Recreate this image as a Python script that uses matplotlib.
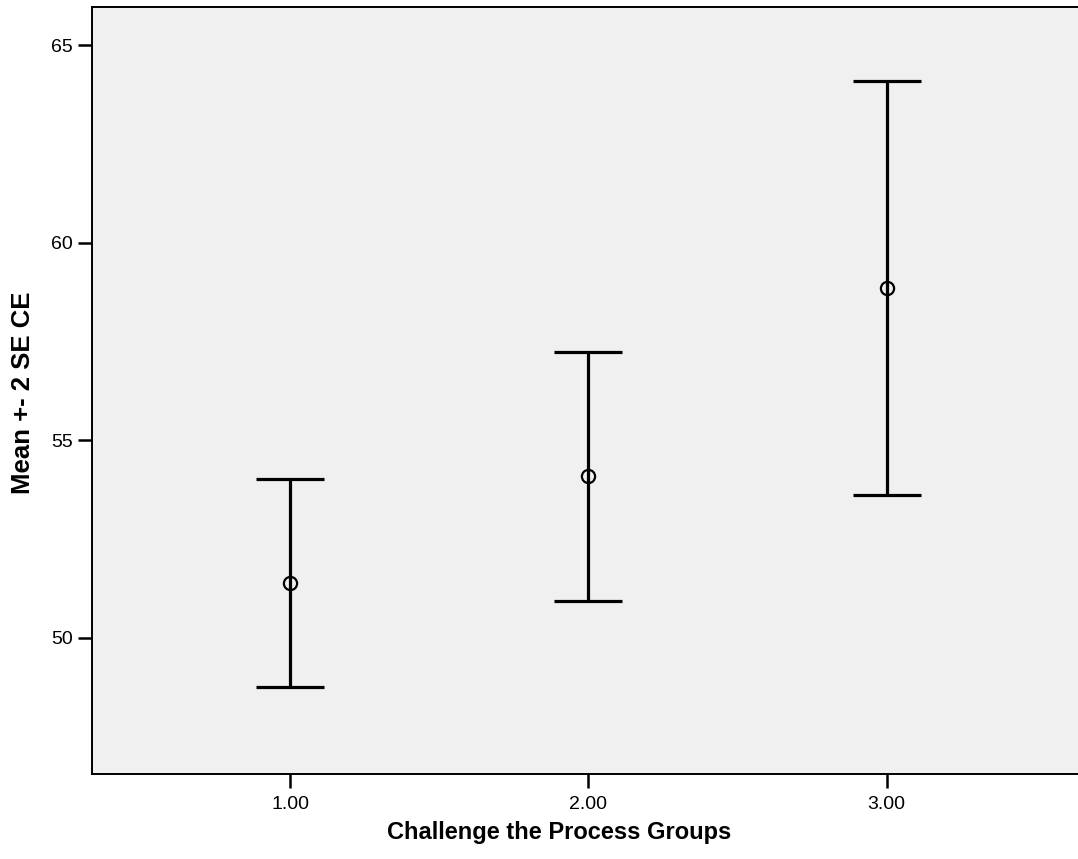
import matplotlib
matplotlib.use("Agg")
import matplotlib.pyplot as plt
import numpy as np

plt.rcParams['font.family'] = ['Liberation Sans', 'DejaVu Sans']

# Group means with their +/- 2 SE bounds
groups = [1.0, 2.0, 3.0]
group_labels = ["1.00", "2.00", "3.00"]
means = [51.38, 54.08, 58.86]
lower = [48.74, 50.92, 53.61]
upper = [54.01, 57.23, 64.09]
y_ticks = [50, 55, 60, 65]

fig = plt.figure(figsize=(10.78, 8.59), dpi=100)
ax = fig.add_axes([0.0851, 0.0986, 0.9149, 0.8936])
ax.set_facecolor("#f0f0f0")

m = np.array(means)
yerr = np.vstack([m - np.array(lower), np.array(upper) - m])
ax.errorbar(groups, means, yerr=yerr, fmt="none", ecolor="black",
            elinewidth=2.3, capsize=24.8, capthick=2.3, zorder=2)
ax.plot(groups, means, linestyle="none", marker="o", markersize=9.5,
        markerfacecolor="none", markeredgecolor="black",
        markeredgewidth=1.6, zorder=3)

ax.set_xlim(0.334, 3.642)
ax.set_ylim(46.54, 65.97)
ax.set_xticks(groups)
ax.set_xticklabels(group_labels)
ax.set_yticks(y_ticks)
ax.tick_params(axis="both", direction="out", length=10, width=1.8,
               labelsize=14, colors="black")
ax.tick_params(axis="y", pad=3.5)
ax.tick_params(axis="x", pad=5.5)

for side in ("left", "bottom", "top"):
    ax.spines[side].set_linewidth(1.4)
    ax.spines[side].set_color("black")
ax.spines["right"].set_visible(False)

# Axis titles
fig.text(0.5186, 0.0303, "Challenge the Process Groups", fontsize=17,
         fontweight="bold", ha="center", va="center")
fig.text(0.0213, 0.543, "Mean +- 2 SE CE", fontsize=18.5,
         fontweight="bold", ha="center", va="center", rotation=90)

fig.savefig("out.png", dpi=100)
